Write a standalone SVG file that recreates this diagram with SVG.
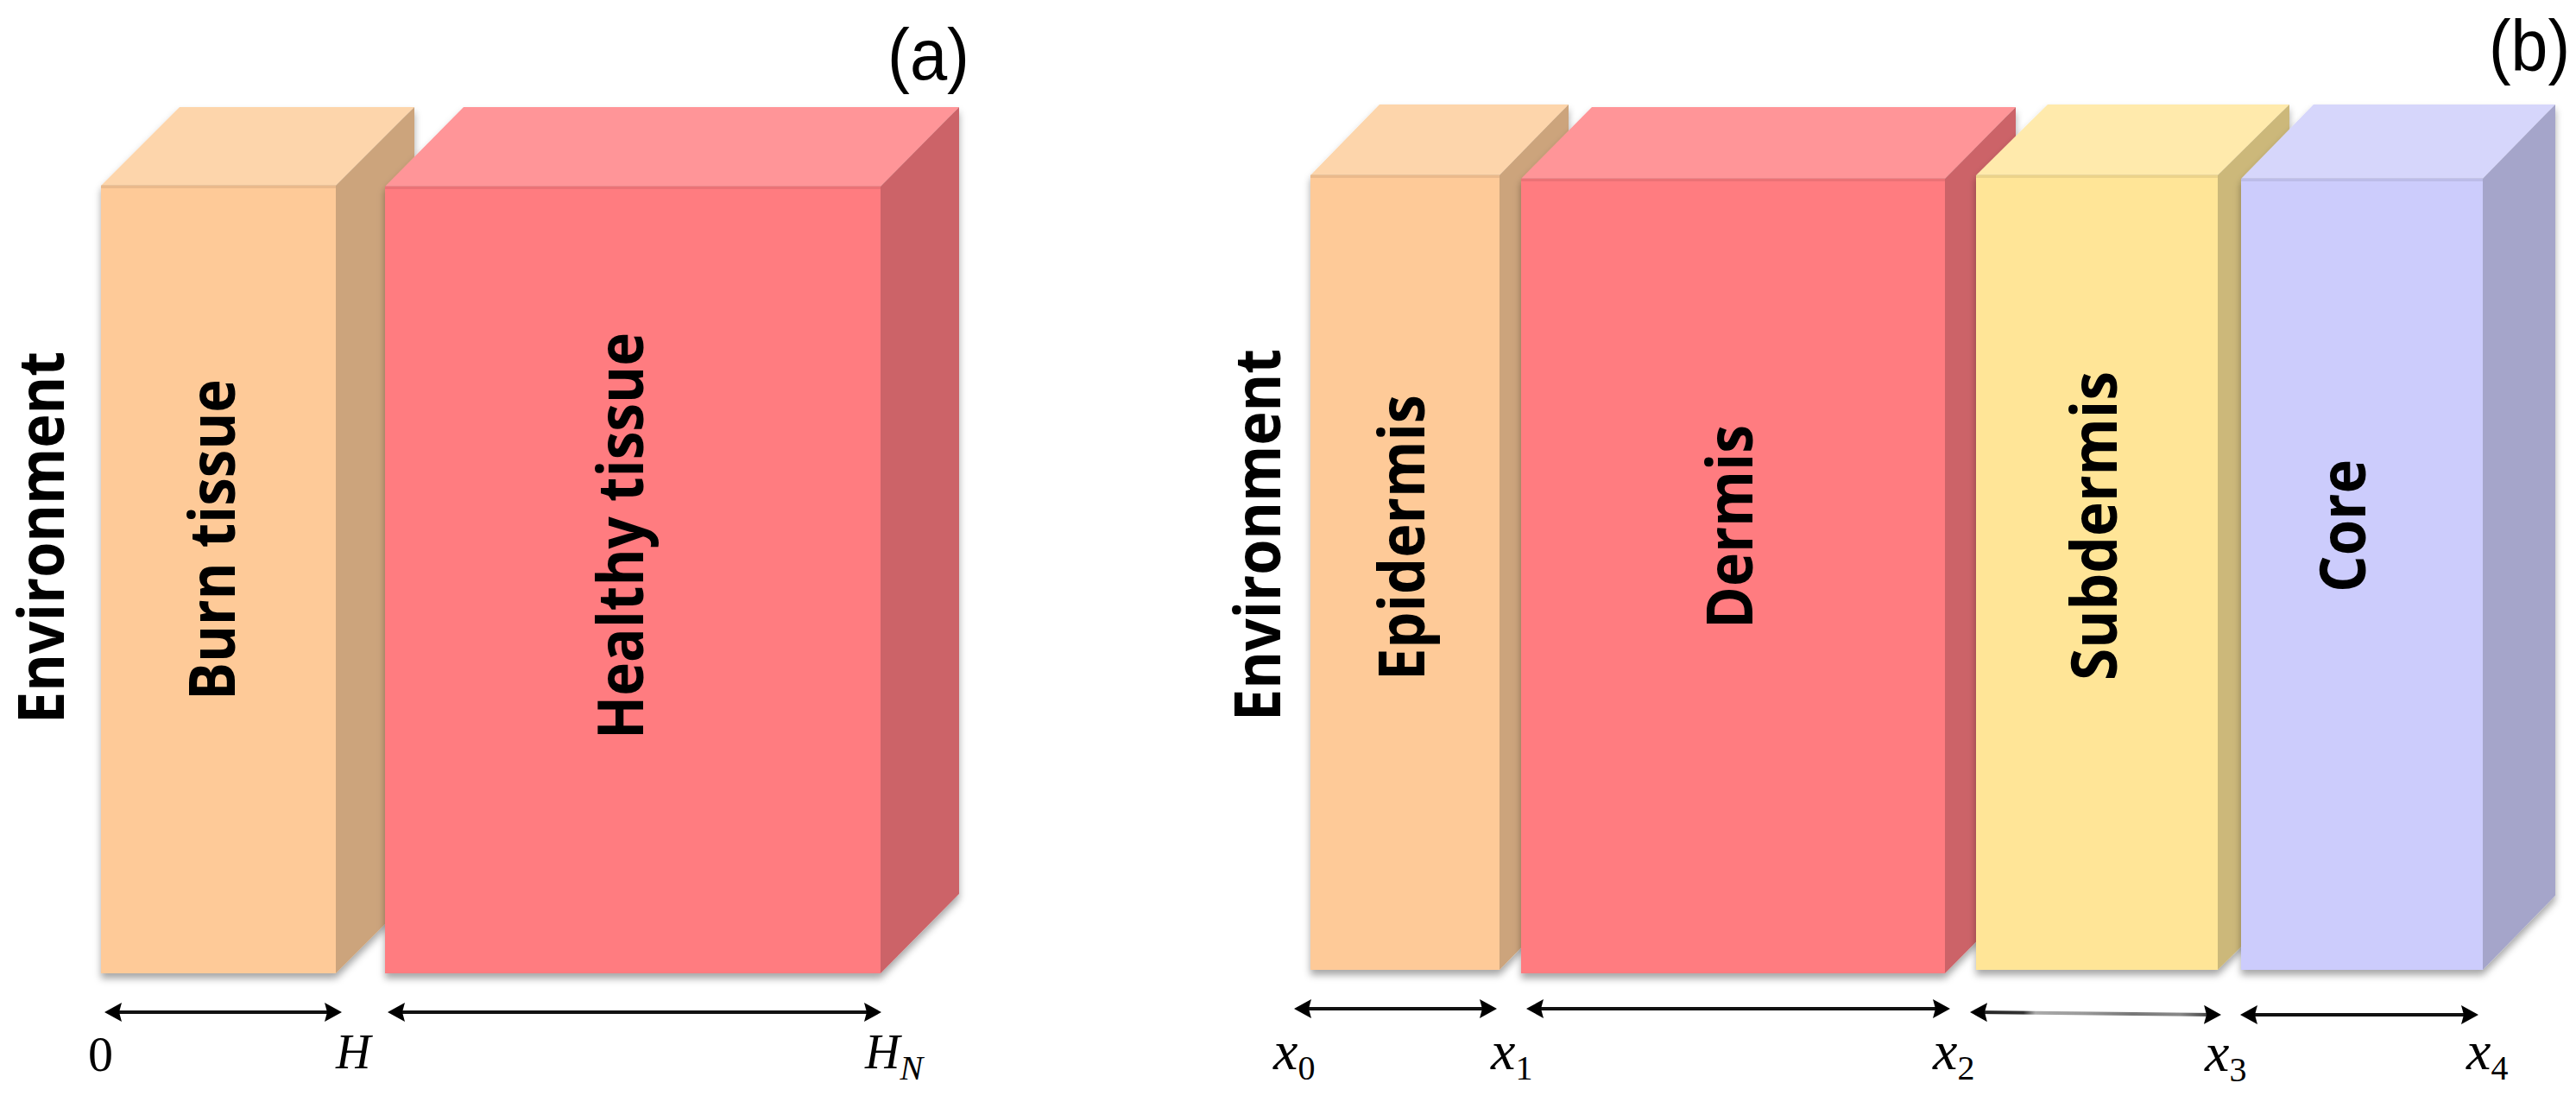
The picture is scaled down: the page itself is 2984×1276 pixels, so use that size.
<svg xmlns="http://www.w3.org/2000/svg" width="2984" height="1276" viewBox="0 0 2984 1276">
<defs>
<filter id="shd" x="-10%" y="-10%" width="120%" height="120%">
<feDropShadow dx="0" dy="6" stdDeviation="4" flood-color="#000" flood-opacity="0.35"/>
</filter>
<marker id="ah" viewBox="0 0 20 22" markerWidth="20" markerHeight="22" refX="14" refY="11" orient="auto-start-reverse" markerUnits="userSpaceOnUse">
<path d="M0,0 L20,11 L0,22 L3,11 Z" fill="#000"/>
</marker>
<linearGradient id="gsub" x1="0" y1="0" x2="1" y2="0">
<stop offset="0" stop-color="#222"/>
<stop offset="0.2" stop-color="#333"/>
<stop offset="0.25" stop-color="#aaa"/>
<stop offset="0.45" stop-color="#999"/>
<stop offset="0.65" stop-color="#777"/>
<stop offset="0.85" stop-color="#888"/>
<stop offset="1" stop-color="#333"/>
</linearGradient>
</defs>
<style>
.lbl{font-family:"Open Sans","Liberation Sans",sans-serif;font-weight:bold;font-size:74px;fill:#000}
.tag{font-family:"Liberation Sans",sans-serif;font-size:84px;fill:#000}
.m{font-family:"Liberation Serif",serif;font-style:italic;fill:#000}
.d{font-style:normal}
.ax{stroke:#111;stroke-width:4;fill:none;marker-start:url(#ah);marker-end:url(#ah)}
.edge{stroke:#000;stroke-opacity:0.08;stroke-width:4}
.pf{fill:#FECA98}.pt{fill:#FDD5AB}.ps{fill:#CCA47B}
.rf{fill:#FF7C80}.rt{fill:#FF9598}.rs{fill:#CC6468}
.yf{fill:#FFE597}.yt{fill:#FFEAAC}.ys{fill:#CCB87A}
.vf{fill:#CCCCFC}.vt{fill:#D6D6FB}.vs{fill:#A5A5CA}
</style>
<rect width="2984" height="1276" fill="#fff"/>

<text class="tag" x="1028" y="92" textLength="95" lengthAdjust="spacingAndGlyphs">(a)</text>
<text class="tag" x="2883" y="82" textLength="94" lengthAdjust="spacingAndGlyphs">(b)</text>

<g id="env-a">
<text class="lbl" transform="translate(74,622.5) rotate(-90)" text-anchor="middle" textLength="431" lengthAdjust="spacingAndGlyphs">Environment</text>
</g>

<g id="burn-tissue">
<g filter="url(#shd)">
<polygon class="pt" points="117,215 208,124 480,124 389,215"/>
<polygon class="ps" points="389,215 480,124 480,1036 389,1127"/>
<rect class="pf" x="117" y="215" width="272" height="912"/>
</g>
<line class="edge" x1="117" y1="216" x2="389" y2="216"/>
<text class="lbl" transform="translate(272,625) rotate(-90)" text-anchor="middle" textLength="372" lengthAdjust="spacingAndGlyphs">Burn tissue</text>
</g>

<g id="healthy-tissue">
<g filter="url(#shd)">
<polygon class="rt" points="446,216 537,124 1111,124 1020,216"/>
<polygon class="rs" points="1020,216 1111,124 1111,1035 1020,1127"/>
<rect class="rf" x="446" y="216" width="574" height="911"/>
</g>
<line class="edge" x1="446" y1="217" x2="1020" y2="217"/>
<text class="lbl" transform="translate(745,620.5) rotate(-90)" text-anchor="middle" textLength="471" lengthAdjust="spacingAndGlyphs">Healthy tissue</text>
</g>

<g id="env-b">
<text class="lbl" transform="translate(1483,619.5) rotate(-90)" text-anchor="middle" textLength="431" lengthAdjust="spacingAndGlyphs">Environment</text>
</g>

<g id="epidermis">
<g filter="url(#shd)">
<polygon class="pt" points="1518,203 1598,121 1817,121 1737,203"/>
<polygon class="ps" points="1737,203 1817,121 1817,1041 1737,1123"/>
<rect class="pf" x="1518" y="203" width="219" height="920"/>
</g>
<line class="edge" x1="1518" y1="204" x2="1737" y2="204"/>
<text class="lbl" transform="translate(1650,622.5) rotate(-90)" text-anchor="middle" textLength="331" lengthAdjust="spacingAndGlyphs">Epidermis</text>
</g>

<g id="dermis">
<g filter="url(#shd)">
<polygon class="rt" points="1762,207 1844,124 2335,124 2253,207"/>
<polygon class="rs" points="2253,207 2335,124 2335,1044 2253,1127"/>
<rect class="rf" x="1762" y="207" width="491" height="920"/>
</g>
<line class="edge" x1="1762" y1="208" x2="2253" y2="208"/>
<text class="lbl" transform="translate(2030,610) rotate(-90)" text-anchor="middle" textLength="236" lengthAdjust="spacingAndGlyphs">Dermis</text>
</g>

<g id="subdermis">
<g filter="url(#shd)">
<polygon class="yt" points="2289,203 2372,121 2652,121 2569,203"/>
<polygon class="ys" points="2569,203 2652,121 2652,1041 2569,1123"/>
<rect class="yf" x="2289" y="203" width="280" height="920"/>
</g>
<line class="edge" x1="2289" y1="204" x2="2569" y2="204"/>
<text class="lbl" transform="translate(2452,609) rotate(-90)" text-anchor="middle" textLength="358" lengthAdjust="spacingAndGlyphs">Subdermis</text>
</g>

<g id="core">
<g filter="url(#shd)">
<polygon class="vt" points="2596,207 2680,121 2960,121 2876,207"/>
<polygon class="vs" points="2876,207 2960,121 2960,1037 2876,1123"/>
<rect class="vf" x="2596" y="207" width="280" height="916"/>
</g>
<line class="edge" x1="2596" y1="208" x2="2876" y2="208"/>
<text class="lbl" transform="translate(2740,609) rotate(-90)" text-anchor="middle" textLength="154" lengthAdjust="spacingAndGlyphs">Core</text>
</g>

<g id="connectors">
<line class="ax" x1="127" y1="1172" x2="390" y2="1172"/>
<line class="ax" x1="455" y1="1172" x2="1015" y2="1172"/>
<line class="ax" x1="1505" y1="1168" x2="1728" y2="1168"/>
<line class="ax" x1="1774" y1="1168" x2="2253" y2="1168"/>
<line class="ax" x1="2288" y1="1172" x2="2567" y2="1175" style="stroke:url(#gsub)"/>
<line class="ax" x1="2601" y1="1175" x2="2865" y2="1175"/>
</g>

<g id="labels">
<text class="m d" x="102" y="1240" font-size="58">0</text>
<text class="m" x="389" y="1237" font-size="56">H</text>
<text class="m" x="1002" y="1237" font-size="56">H<tspan font-size="40" dy="13">N</tspan></text>
<text class="m" x="1475" y="1238" font-size="64">x<tspan class="d" font-size="40" dy="12">0</tspan></text>
<text class="m" x="1727" y="1238" font-size="64">x<tspan class="d" font-size="40" dy="12">1</tspan></text>
<text class="m" x="2239" y="1238" font-size="64">x<tspan class="d" font-size="40" dy="12">2</tspan></text>
<text class="m" x="2554" y="1240" font-size="64">x<tspan class="d" font-size="40" dy="12">3</tspan></text>
<text class="m" x="2857" y="1238" font-size="64">x<tspan class="d" font-size="40" dy="12">4</tspan></text>
</g>
</svg>
